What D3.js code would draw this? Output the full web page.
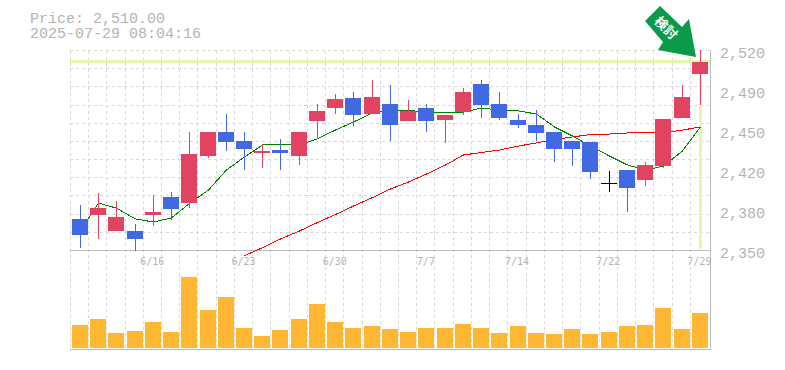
<!DOCTYPE html>
<html>
<head>
<meta charset="utf-8">
<script src="https://cdnjs.cloudflare.com/ajax/libs/d3/7.8.5/d3.min.js"></script>
<style>
html,body{margin:0;padding:0;background:#fff;}
svg{display:block;}
</style>
</head>
<body>
<svg id="chart" width="785" height="370"></svg>
<script>
const dates = ["6/10","6/11","6/12","6/13","6/16","6/17","6/18","6/19","6/20","6/23","6/24","6/25","6/26","6/27","6/30","7/1","7/2","7/3","7/4","7/7","7/8","7/9","7/10","7/11","7/14","7/15","7/16","7/17","7/18","7/22","7/23","7/24","7/25","7/28","7/29"];
const dateLabels = ["6/16","6/23","6/30","7/7","7/14","7/22","7/29"];
const opens  = [2376.8,2380.2,2366.6,2366.6,2380.2,2395.5,2390.4,2430.3,2450.7,2443.1,2432.9,2435.4,2430.3,2460.1,2471.1,2479.6,2466,2474.5,2460.1,2471.1,2460.9,2467.7,2491.5,2474.5,2460.9,2456.7,2450.7,2443.1,2442.2,2407.4,2418.4,2409.9,2421.8,2462.6,2500];
const closes = [2363.2,2386.1,2378.5,2359.8,2382.7,2385.3,2432,2450.7,2442.2,2436.3,2434.6,2432.9,2450.7,2468.6,2478.8,2465.2,2480.5,2456.7,2468.6,2460.1,2465.2,2484.7,2473.7,2462.6,2456.7,2449.9,2436.3,2436.3,2416.7,2407.4,2403.1,2422.7,2461.8,2480.5,2510];
const highs  = [2388.7,2398.9,2392.1,2372.5,2397.2,2399.7,2450.7,2450.7,2466,2450.7,2440.5,2444.8,2450.7,2474.5,2483,2484.7,2494.9,2490.7,2477.9,2474.5,2465.2,2488.1,2494.9,2484.7,2466,2469.4,2450.7,2443.1,2442.2,2417.6,2418.4,2425.2,2461.8,2490.7,2520.4];
const lows   = [2352.4,2359.8,2366.6,2349.6,2370.8,2375.9,2386.1,2428.6,2434.6,2418.4,2420.1,2418.4,2422.7,2444.8,2466,2455.8,2466,2443.1,2460.1,2450.7,2441.4,2465.2,2462.6,2460.9,2454.1,2443.1,2425.2,2421.8,2410.8,2399.7,2382.7,2404.8,2420.1,2462.6,2473.7];
const volumes = [69,87,45,51,78,48,213,114,153,60,36,54,87,132,78,60,66,57,48,60,60,72,60,45,66,45,42,57,42,48,66,69,120,57,105];
const maShort = [2367,2390.3,2386,2376.8,2374.2,2377.7,2390,2401.4,2418.4,2429.5,2439.7,2439.7,2439.7,2445,2452.4,2459.2,2466.9,2469.4,2469.4,2466.9,2466.9,2467.7,2471.1,2469.4,2468.6,2466,2455,2447.3,2438.8,2430.3,2422.7,2418.4,2421.8,2434.6,2455];
const maLong = [null,null,null,null,null,null,null,null,null,2345.6,2352.4,2359.8,2366.6,2373.8,2380.6,2387.8,2395,2402.3,2408.2,2415,2422.7,2431.2,2433.3,2435.4,2438.8,2441.4,2444.4,2446.5,2448.6,2449,2449.9,2449.9,2449.9,2452.4,2455];
const priceTicks = [2520,2486,2452,2418,2384,2350];
const headerLines = ["Price: 2,510.00","2025-07-29 08:04:16"];
const arrowLabel = "検討";

const C = {grid:"#d9d9d9",axis:"#bbbbbb",text:"#b4b4b4",up:"#e24360",down:"#4169e1",flat:"#000000",vol:"#ffb733",hi:"#e5f7ab",maS:"#008000",maL:"#ff0000",arrow:"#0a9a4a"};
const mono = "'Liberation Mono',monospace";
const svg = d3.select("#chart");
const idx = d3.range(dates.length);

const x = d3.scaleBand().domain(dates).range([70.3,708.5]);
const cx = i => Math.round(x(dates[i]) + x.bandwidth()/2 + 0.5);
const y = d3.scaleLinear().domain([2350,2520]).range([250.5,50.5]);
const yV = d3.scaleLinear().domain([0,240]).range([348,268]);

// Grid
const gridG = svg.append("g").attr("stroke",C.grid).attr("stroke-dasharray","3 3").attr("shape-rendering","crispEdges");
gridG.selectAll("line.h").data(d3.range(0,11)).join("line").attr("class","h")
  .attr("x1",70).attr("x2",710)
  .attr("y1",k=>y(2520-k*170/11)).attr("y2",k=>y(2520-k*170/11));
gridG.selectAll("line.v").data(dates).join("line").attr("class","v")
  .attr("x1",d=>x(d)).attr("x2",d=>x(d)).attr("y1",50.5).attr("y2",350);

// Frame
const frame = svg.append("g").attr("stroke",C.axis).attr("shape-rendering","crispEdges");
frame.append("line").attr("x1",70).attr("x2",711).attr("y1",y(2350)).attr("y2",y(2350));
frame.append("line").attr("x1",70).attr("x2",711).attr("y1",349.5).attr("y2",349.5);
frame.append("line").attr("x1",710.5).attr("x2",710.5).attr("y1",50).attr("y2",350);

// Highlights for the last price
svg.append("rect").attr("x",70).attr("width",640).attr("y",60).attr("height",3).attr("fill",C.hi);
svg.append("rect").attr("x",cx(34)-1).attr("width",3).attr("y",61).attr("height",188).attr("fill",C.hi);

// Volume
svg.append("g").selectAll("rect").data(idx).join("rect")
  .attr("x",i=>cx(i)-8).attr("width",16)
  .attr("y",i=>yV(volumes[i])).attr("height",i=>yV(0)-yV(volumes[i]))
  .attr("fill",C.vol).attr("shape-rendering","crispEdges");

// Moving averages
function maPath(arr,color){
  const pts = idx.filter(i=>arr[i]!==null).map(i=>[cx(i)+0.5,y(arr[i])]);
  svg.append("path").attr("d",d3.line()(pts)).attr("fill","none").attr("stroke",color).attr("stroke-width",1).attr("shape-rendering","crispEdges");
}
maPath(maLong,C.maL);
maPath(maShort,C.maS);

// Candles
const colorOf = i => closes[i]>opens[i]?C.up:closes[i]<opens[i]?C.down:C.flat;
const candles = svg.append("g").attr("shape-rendering","crispEdges");
candles.selectAll("rect.w").data(idx).join("rect").attr("class","w")
  .attr("x",i=>cx(i)).attr("width",1)
  .attr("y",i=>y(highs[i])).attr("height",i=>y(lows[i])-y(highs[i]))
  .attr("fill",colorOf);
candles.selectAll("rect.b").data(idx).join("rect").attr("class","b")
  .attr("x",i=>cx(i)-8).attr("width",16)
  .attr("y",i=>y(Math.max(opens[i],closes[i])))
  .attr("height",i=>Math.max(1,Math.abs(y(opens[i])-y(closes[i]))))
  .attr("fill",colorOf);

// Axes
const fmt = v => d3.format(",")(Math.round(v/10)*10);
const yAxis = svg.append("g").attr("transform","translate(720,0)")
  .call(d3.axisRight(y).tickValues(priceTicks).tickFormat(fmt).tickSize(0).tickPadding(0));
yAxis.select(".domain").remove();
yAxis.selectAll("text").attr("fill",C.text).attr("font-family",mono).attr("font-size",15).attr("dy",7);

const xAxis = svg.append("g").attr("transform","translate(0,250)")
  .call(d3.axisBottom(x).tickValues(dateLabels).tickSize(0).tickPadding(0));
xAxis.select(".domain").remove();
xAxis.selectAll("text").attr("fill",C.text).attr("font-family","'DejaVu Sans Mono',monospace").attr("font-size",10).attr("dy",15).attr("y",0).attr("text-anchor","middle");

// Header
svg.append("g").selectAll("text").data(headerLines).join("text")
  .attr("x",30).attr("y",(d,i)=>23+i*15).text(d=>d)
  .attr("fill",C.text).attr("font-family",mono).attr("font-size",15);

// Arrow
svg.append("polygon").attr("fill",C.arrow)
  .attr("points","660,6 645,21 663,42 658,50 696,57 689,19 682,27");
svg.append("text").text(arrowLabel)
  .attr("transform","translate(666,28) rotate(45)")
  .attr("text-anchor","middle").attr("dy","0.36em")
  .attr("fill","#fff").attr("font-weight","700").attr("font-size",13)
  .attr("font-family","'Noto Sans CJK JP',sans-serif");
</script>
</body>
</html>
